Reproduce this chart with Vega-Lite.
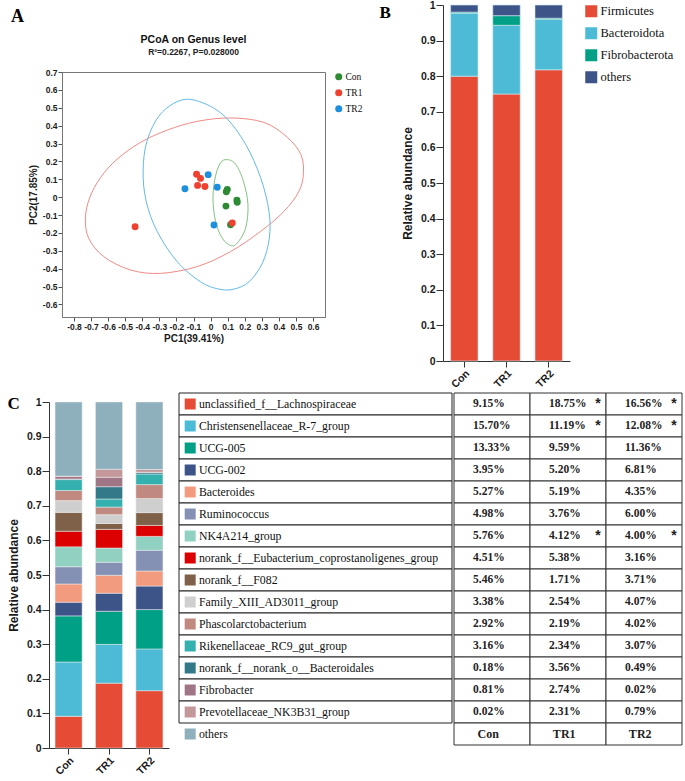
{
  "$schema": "https://vega.github.io/schema/vega-lite/v6.json",
  "background": "white",
  "padding": {"left": 7, "top": 0, "right": 2, "bottom": 0},
  "config": {
    "font": "Liberation Sans",
    "view": {"stroke": null},
    "axis": {"grid": false, "labelFont": "Liberation Sans", "labelFontWeight": "bold", "labelColor": "#1a1a1a", "titleFont": "Liberation Sans", "titleFontWeight": "bold", "titleColor": "#1a1a1a", "domainColor": "#333333", "tickColor": "#333333"},
    "legend": {"labelColor": "#111111"},
    "title": {"color": "#111111"}
  },
  "datasets": {
    "pts": [
      {"group": "Con", "PC1": 0.098, "PC2": 0.043},
      {"group": "Con", "PC1": 0.092, "PC2": 0.030},
      {"group": "Con", "PC1": 0.154, "PC2": -0.017},
      {"group": "Con", "PC1": 0.156, "PC2": -0.028},
      {"group": "Con", "PC1": 0.090, "PC2": -0.050},
      {"group": "Con", "PC1": 0.117, "PC2": -0.154},
      {"group": "TR1", "PC1": -0.082, "PC2": 0.128},
      {"group": "TR1", "PC1": -0.059, "PC2": 0.105},
      {"group": "TR1", "PC1": -0.076, "PC2": 0.066},
      {"group": "TR1", "PC1": -0.033, "PC2": 0.060},
      {"group": "TR1", "PC1": -0.442, "PC2": -0.165},
      {"group": "TR1", "PC1": 0.127, "PC2": -0.144},
      {"group": "TR2", "PC1": -0.150, "PC2": 0.047},
      {"group": "TR2", "PC1": -0.014, "PC2": 0.126},
      {"group": "TR2", "PC1": 0.039, "PC2": 0.056},
      {"group": "TR2", "PC1": 0.020, "PC2": -0.156}
    ],
    "ell": [
      {"set": "TR1", "i": 1, "PC1": -0.733, "PC2": -0.116},
      {"set": "TR1", "i": 2, "PC1": -0.708, "PC2": -0.004},
      {"set": "TR1", "i": 3, "PC1": -0.645, "PC2": 0.109},
      {"set": "TR1", "i": 4, "PC1": -0.548, "PC2": 0.212},
      {"set": "TR1", "i": 5, "PC1": -0.411, "PC2": 0.306},
      {"set": "TR1", "i": 6, "PC1": -0.254, "PC2": 0.375},
      {"set": "TR1", "i": 7, "PC1": -0.078, "PC2": 0.424},
      {"set": "TR1", "i": 8, "PC1": 0.117, "PC2": 0.443},
      {"set": "TR1", "i": 9, "PC1": 0.313, "PC2": 0.418},
      {"set": "TR1", "i": 10, "PC1": 0.450, "PC2": 0.334},
      {"set": "TR1", "i": 11, "PC1": 0.528, "PC2": 0.240},
      {"set": "TR1", "i": 12, "PC1": 0.544, "PC2": 0.137},
      {"set": "TR1", "i": 13, "PC1": 0.518, "PC2": 0.034},
      {"set": "TR1", "i": 14, "PC1": 0.430, "PC2": -0.079},
      {"set": "TR1", "i": 15, "PC1": 0.293, "PC2": -0.191},
      {"set": "TR1", "i": 16, "PC1": 0.117, "PC2": -0.304},
      {"set": "TR1", "i": 17, "PC1": -0.078, "PC2": -0.388},
      {"set": "TR1", "i": 18, "PC1": -0.293, "PC2": -0.426},
      {"set": "TR1", "i": 19, "PC1": -0.469, "PC2": -0.407},
      {"set": "TR1", "i": 20, "PC1": -0.626, "PC2": -0.332},
      {"set": "TR1", "i": 21, "PC1": -0.714, "PC2": -0.229},
      {"set": "TR2", "i": 1, "PC1": -0.166, "PC2": 0.544},
      {"set": "TR2", "i": 2, "PC1": -0.039, "PC2": 0.525},
      {"set": "TR2", "i": 3, "PC1": 0.088, "PC2": 0.447},
      {"set": "TR2", "i": 4, "PC1": 0.205, "PC2": 0.296},
      {"set": "TR2", "i": 5, "PC1": 0.293, "PC2": 0.109},
      {"set": "TR2", "i": 6, "PC1": 0.342, "PC2": -0.079},
      {"set": "TR2", "i": 7, "PC1": 0.344, "PC2": -0.229},
      {"set": "TR2", "i": 8, "PC1": 0.303, "PC2": -0.370},
      {"set": "TR2", "i": 9, "PC1": 0.225, "PC2": -0.473},
      {"set": "TR2", "i": 10, "PC1": 0.137, "PC2": -0.514},
      {"set": "TR2", "i": 11, "PC1": 0.049, "PC2": -0.514},
      {"set": "TR2", "i": 12, "PC1": -0.059, "PC2": -0.473},
      {"set": "TR2", "i": 13, "PC1": -0.196, "PC2": -0.360},
      {"set": "TR2", "i": 14, "PC1": -0.313, "PC2": -0.191},
      {"set": "TR2", "i": 15, "PC1": -0.377, "PC2": -0.023},
      {"set": "TR2", "i": 16, "PC1": -0.395, "PC2": 0.146},
      {"set": "TR2", "i": 17, "PC1": -0.372, "PC2": 0.315},
      {"set": "TR2", "i": 18, "PC1": -0.293, "PC2": 0.465},
      {"set": "Con", "i": 1, "PC1": 0.098, "PC2": 0.210},
      {"set": "Con", "i": 2, "PC1": 0.147, "PC2": 0.184},
      {"set": "Con", "i": 3, "PC1": 0.192, "PC2": 0.090},
      {"set": "Con", "i": 4, "PC1": 0.219, "PC2": -0.041},
      {"set": "Con", "i": 5, "PC1": 0.205, "PC2": -0.173},
      {"set": "Con", "i": 6, "PC1": 0.156, "PC2": -0.257},
      {"set": "Con", "i": 7, "PC1": 0.117, "PC2": -0.270},
      {"set": "Con", "i": 8, "PC1": 0.068, "PC2": -0.229},
      {"set": "Con", "i": 9, "PC1": 0.029, "PC2": -0.135},
      {"set": "Con", "i": 10, "PC1": 0.014, "PC2": -0.004},
      {"set": "Con", "i": 11, "PC1": 0.029, "PC2": 0.118},
      {"set": "Con", "i": 12, "PC1": 0.059, "PC2": 0.193}
    ],
    "phylum": [
      {"group": "Con", "phylum": "Firmicutes", "k": 1, "abundance": 0.800},
      {"group": "Con", "phylum": "Bacteroidota", "k": 2, "abundance": 0.177},
      {"group": "Con", "phylum": "Fibrobacterota", "k": 3, "abundance": 0.003},
      {"group": "Con", "phylum": "others", "k": 4, "abundance": 0.020},
      {"group": "TR1", "phylum": "Firmicutes", "k": 1, "abundance": 0.750},
      {"group": "TR1", "phylum": "Bacteroidota", "k": 2, "abundance": 0.193},
      {"group": "TR1", "phylum": "Fibrobacterota", "k": 3, "abundance": 0.027},
      {"group": "TR1", "phylum": "others", "k": 4, "abundance": 0.030},
      {"group": "TR2", "phylum": "Firmicutes", "k": 1, "abundance": 0.818},
      {"group": "TR2", "phylum": "Bacteroidota", "k": 2, "abundance": 0.142},
      {"group": "TR2", "phylum": "Fibrobacterota", "k": 3, "abundance": 0.003},
      {"group": "TR2", "phylum": "others", "k": 4, "abundance": 0.037}
    ],
    "genus": [
      {"genus": "unclassified_f__Lachnospiraceae", "k": 1, "group": "Con", "abundance": 0.0915, "sig": ""},
      {"genus": "unclassified_f__Lachnospiraceae", "k": 1, "group": "TR1", "abundance": 0.1875, "sig": "*"},
      {"genus": "unclassified_f__Lachnospiraceae", "k": 1, "group": "TR2", "abundance": 0.1656, "sig": "*"},
      {"genus": "Christensenellaceae_R-7_group", "k": 2, "group": "Con", "abundance": 0.1570, "sig": ""},
      {"genus": "Christensenellaceae_R-7_group", "k": 2, "group": "TR1", "abundance": 0.1119, "sig": "*"},
      {"genus": "Christensenellaceae_R-7_group", "k": 2, "group": "TR2", "abundance": 0.1208, "sig": "*"},
      {"genus": "UCG-005", "k": 3, "group": "Con", "abundance": 0.1333, "sig": ""},
      {"genus": "UCG-005", "k": 3, "group": "TR1", "abundance": 0.0959, "sig": ""},
      {"genus": "UCG-005", "k": 3, "group": "TR2", "abundance": 0.1136, "sig": ""},
      {"genus": "UCG-002", "k": 4, "group": "Con", "abundance": 0.0395, "sig": ""},
      {"genus": "UCG-002", "k": 4, "group": "TR1", "abundance": 0.0520, "sig": ""},
      {"genus": "UCG-002", "k": 4, "group": "TR2", "abundance": 0.0681, "sig": ""},
      {"genus": "Bacteroides", "k": 5, "group": "Con", "abundance": 0.0527, "sig": ""},
      {"genus": "Bacteroides", "k": 5, "group": "TR1", "abundance": 0.0519, "sig": ""},
      {"genus": "Bacteroides", "k": 5, "group": "TR2", "abundance": 0.0435, "sig": ""},
      {"genus": "Ruminococcus", "k": 6, "group": "Con", "abundance": 0.0498, "sig": ""},
      {"genus": "Ruminococcus", "k": 6, "group": "TR1", "abundance": 0.0376, "sig": ""},
      {"genus": "Ruminococcus", "k": 6, "group": "TR2", "abundance": 0.0600, "sig": ""},
      {"genus": "NK4A214_group", "k": 7, "group": "Con", "abundance": 0.0576, "sig": ""},
      {"genus": "NK4A214_group", "k": 7, "group": "TR1", "abundance": 0.0412, "sig": "*"},
      {"genus": "NK4A214_group", "k": 7, "group": "TR2", "abundance": 0.0400, "sig": "*"},
      {"genus": "norank_f__Eubacterium_coprostanoligenes_group", "k": 8, "group": "Con", "abundance": 0.0451, "sig": ""},
      {"genus": "norank_f__Eubacterium_coprostanoligenes_group", "k": 8, "group": "TR1", "abundance": 0.0538, "sig": ""},
      {"genus": "norank_f__Eubacterium_coprostanoligenes_group", "k": 8, "group": "TR2", "abundance": 0.0316, "sig": ""},
      {"genus": "norank_f__F082", "k": 9, "group": "Con", "abundance": 0.0546, "sig": ""},
      {"genus": "norank_f__F082", "k": 9, "group": "TR1", "abundance": 0.0171, "sig": ""},
      {"genus": "norank_f__F082", "k": 9, "group": "TR2", "abundance": 0.0371, "sig": ""},
      {"genus": "Family_XIII_AD3011_group", "k": 10, "group": "Con", "abundance": 0.0338, "sig": ""},
      {"genus": "Family_XIII_AD3011_group", "k": 10, "group": "TR1", "abundance": 0.0254, "sig": ""},
      {"genus": "Family_XIII_AD3011_group", "k": 10, "group": "TR2", "abundance": 0.0407, "sig": ""},
      {"genus": "Phascolarctobacterium", "k": 11, "group": "Con", "abundance": 0.0292, "sig": ""},
      {"genus": "Phascolarctobacterium", "k": 11, "group": "TR1", "abundance": 0.0219, "sig": ""},
      {"genus": "Phascolarctobacterium", "k": 11, "group": "TR2", "abundance": 0.0402, "sig": ""},
      {"genus": "Rikenellaceae_RC9_gut_group", "k": 12, "group": "Con", "abundance": 0.0316, "sig": ""},
      {"genus": "Rikenellaceae_RC9_gut_group", "k": 12, "group": "TR1", "abundance": 0.0234, "sig": ""},
      {"genus": "Rikenellaceae_RC9_gut_group", "k": 12, "group": "TR2", "abundance": 0.0307, "sig": ""},
      {"genus": "norank_f__norank_o__Bacteroidales", "k": 13, "group": "Con", "abundance": 0.0018, "sig": ""},
      {"genus": "norank_f__norank_o__Bacteroidales", "k": 13, "group": "TR1", "abundance": 0.0356, "sig": ""},
      {"genus": "norank_f__norank_o__Bacteroidales", "k": 13, "group": "TR2", "abundance": 0.0049, "sig": ""},
      {"genus": "Fibrobacter", "k": 14, "group": "Con", "abundance": 0.0081, "sig": ""},
      {"genus": "Fibrobacter", "k": 14, "group": "TR1", "abundance": 0.0274, "sig": ""},
      {"genus": "Fibrobacter", "k": 14, "group": "TR2", "abundance": 0.0002, "sig": ""},
      {"genus": "Prevotellaceae_NK3B31_group", "k": 15, "group": "Con", "abundance": 0.0002, "sig": ""},
      {"genus": "Prevotellaceae_NK3B31_group", "k": 15, "group": "TR1", "abundance": 0.0231, "sig": ""},
      {"genus": "Prevotellaceae_NK3B31_group", "k": 15, "group": "TR2", "abundance": 0.0079, "sig": ""},
      {"genus": "others", "k": 16, "group": "Con", "abundance": 0.2142, "sig": ""},
      {"genus": "others", "k": 16, "group": "TR1", "abundance": 0.1943, "sig": ""},
      {"genus": "others", "k": 16, "group": "TR2", "abundance": 0.1951, "sig": ""}
    ]
  },
  "resolve": {"scale": {"color": "independent", "stroke": "independent", "x": "independent", "y": "independent"}},
  "spacing": 2,
  "vconcat": [
    {
      "spacing": 15,
      "resolve": {"scale": {"color": "independent", "stroke": "independent", "x": "independent", "y": "independent"}},
      "hconcat": [
        {
          "spacing": -23,
          "resolve": {"scale": {"color": "independent", "stroke": "independent", "x": "independent", "y": "independent"}},
          "hconcat": [
            {
              "width": 1,
              "height": 1,
              "data": {"values": []},
              "mark": "point",
              "title": {"text": "A", "orient": "bottom", "anchor": "start", "frame": "group", "dx": -38, "offset": 2, "font": "Liberation Serif", "fontSize": 18, "fontWeight": "bold", "color": "#000000"}
            },
            {
              "spacing": 0,
              "resolve": {"scale": {"color": "independent", "stroke": "independent", "x": "independent", "y": "independent"}},
              "vconcat": [
                {"width": 1, "height": 29, "data": {"values": []}, "mark": "point"},
                {
                  "width": 263,
                  "height": 245,
                  "view": {"stroke": "#777777"},
                  "title": {"text": "PCoA on Genus level", "subtitle": "R²=0.2267, P=0.028000", "font": "Liberation Sans", "fontSize": 10.5, "fontWeight": "bold", "subtitleFont": "Liberation Sans", "subtitleFontSize": 8.5, "subtitleFontWeight": "bold", "subtitleColor": "#222222", "subtitlePadding": 2, "anchor": "middle", "offset": 12},
                  "layer": [
                    {
                      "mark": {"type": "rule", "strokeDash": [2, 2], "color": "#555555", "strokeWidth": 0.8},
                      "encoding": {"x": {"datum": 0, "type": "quantitative", "title": "PC1(39.41%)",
                          "scale": {"domain": [-0.87, 0.67], "nice": false, "zero": false},
                          "axis": {"values": [-0.8, -0.7, -0.6, -0.5, -0.4, -0.3, -0.2, -0.1, 0, 0.1, 0.2, 0.3, 0.4, 0.5, 0.6], "labelExpr": "'' + datum.value", "labelOverlap": false, "labelFontSize": 8.5, "titleFontSize": 10, "tickSize": 4, "labelPadding": 1, "titlePadding": 3, "domainColor": "#777777", "tickColor": "#555555"}}}
                    },
                    {
                      "mark": {"type": "rule", "strokeDash": [2, 2], "color": "#555555", "strokeWidth": 0.8},
                      "encoding": {"y": {"datum": 0, "type": "quantitative", "title": "PC2(17.85%)",
                          "scale": {"domain": [-0.67, 0.7], "nice": false, "zero": false},
                          "axis": {"values": [-0.6, -0.5, -0.4, -0.3, -0.2, -0.1, 0, 0.1, 0.2, 0.3, 0.4, 0.5, 0.6, 0.7], "labelExpr": "'' + datum.value", "labelOverlap": false, "labelFontSize": 8.5, "titleFontSize": 10, "tickSize": 4, "labelPadding": 1, "titlePadding": 4, "domainColor": "#777777", "tickColor": "#555555"}}}
                    },
                    {
                      "data": {"name": "ell"},
                      "mark": {"type": "line", "interpolate": "cardinal-closed", "strokeWidth": 1},
                      "encoding": {
                        "x": {"field": "PC1", "type": "quantitative", "title": "PC1(39.41%)",
                          "scale": {"domain": [-0.87, 0.67], "nice": false, "zero": false},
                          "axis": {"values": [-0.8, -0.7, -0.6, -0.5, -0.4, -0.3, -0.2, -0.1, 0, 0.1, 0.2, 0.3, 0.4, 0.5, 0.6], "labelExpr": "'' + datum.value", "labelOverlap": false, "labelFontSize": 8.5, "titleFontSize": 10, "tickSize": 4, "labelPadding": 1, "titlePadding": 3, "domainColor": "#777777", "tickColor": "#555555"}},
                        "y": {"field": "PC2", "type": "quantitative", "title": "PC2(17.85%)",
                          "scale": {"domain": [-0.67, 0.7], "nice": false, "zero": false},
                          "axis": {"values": [-0.6, -0.5, -0.4, -0.3, -0.2, -0.1, 0, 0.1, 0.2, 0.3, 0.4, 0.5, 0.6, 0.7], "labelExpr": "'' + datum.value", "labelOverlap": false, "labelFontSize": 8.5, "titleFontSize": 10, "tickSize": 4, "labelPadding": 1, "titlePadding": 4, "domainColor": "#777777", "tickColor": "#555555"}},
                        "order": {"field": "i", "type": "quantitative"},
                        "stroke": {"field": "set", "type": "nominal", "scale": {"domain": ["TR1", "TR2", "Con"], "range": ["#f28a86", "#62b9e8", "#82c182"]}, "legend": null}
                      }
                    },
                    {
                      "data": {"name": "pts"},
                      "mark": {"type": "circle", "size": 48, "opacity": 1},
                      "encoding": {
                        "x": {"field": "PC1", "type": "quantitative", "title": "PC1(39.41%)",
                          "scale": {"domain": [-0.87, 0.67], "nice": false, "zero": false},
                          "axis": {"values": [-0.8, -0.7, -0.6, -0.5, -0.4, -0.3, -0.2, -0.1, 0, 0.1, 0.2, 0.3, 0.4, 0.5, 0.6], "labelExpr": "'' + datum.value", "labelOverlap": false, "labelFontSize": 8.5, "titleFontSize": 10, "tickSize": 4, "labelPadding": 1, "titlePadding": 3, "domainColor": "#777777", "tickColor": "#555555"}},
                        "y": {"field": "PC2", "type": "quantitative", "title": "PC2(17.85%)",
                          "scale": {"domain": [-0.67, 0.7], "nice": false, "zero": false},
                          "axis": {"values": [-0.6, -0.5, -0.4, -0.3, -0.2, -0.1, 0, 0.1, 0.2, 0.3, 0.4, 0.5, 0.6, 0.7], "labelExpr": "'' + datum.value", "labelOverlap": false, "labelFontSize": 8.5, "titleFontSize": 10, "tickSize": 4, "labelPadding": 1, "titlePadding": 4, "domainColor": "#777777", "tickColor": "#555555"}},
                        "color": {"field": "group", "type": "nominal", "scale": {"domain": ["Con", "TR1", "TR2"], "range": ["#2e8b34", "#f0402f", "#1e8fdc"]},
                          "legend": {"title": null, "orient": "right", "offset": 9, "padding": 0, "symbolType": "circle", "symbolSize": 50, "labelFont": "Liberation Serif", "labelFontSize": 9.5, "rowPadding": 5, "labelOffset": 2}}
                      }
                    }
                  ]
                }
              ]
            }
          ]
        },
        {
          "width": 127,
          "height": 356,
          "data": {"name": "phylum"},
          "title": {"text": "B", "anchor": "start", "frame": "bounds", "font": "Liberation Serif", "fontSize": 17, "fontWeight": "bold", "offset": -22, "dx": -22, "color": "#000000"},
          "mark": {"type": "bar", "stroke": "#d4ecf4", "strokeWidth": 0.6},
          "encoding": {
            "x": {"field": "group", "type": "nominal", "sort": ["Con", "TR1", "TR2"], "scale": {"paddingInner": 0.35, "paddingOuter": 0.18}, "axis": {"title": null, "labelAngle": -45, "labelFontSize": 10.5, "tickSize": 6, "labelPadding": 1}},
            "y": {"field": "abundance", "type": "quantitative", "stack": "zero", "scale": {"domain": [0, 1], "nice": false}, "axis": {"title": "Relative abundance", "values": [0, 0.1, 0.2, 0.3, 0.4, 0.5, 0.6, 0.7, 0.8, 0.9, 1], "labelExpr": "'' + datum.value", "labelFontSize": 10.5, "titleFontSize": 12, "tickSize": 7, "labelPadding": 1, "titlePadding": 6}},
            "color": {"field": "phylum", "type": "nominal", "scale": {"domain": ["Firmicutes", "Bacteroidota", "Fibrobacterota", "others"], "range": ["#E64B35", "#4DBBD5", "#00A087", "#3C5488"]},
              "legend": {"title": null, "orient": "right", "offset": 15, "symbolType": "square", "symbolSize": 144, "symbolStrokeWidth": 0, "labelFont": "Liberation Serif", "labelFontSize": 12.5, "rowPadding": 9, "labelOffset": 3}},
            "order": {"field": "k", "type": "quantitative"}
          }
        }
      ]
    },
    {
      "spacing": 9,
      "resolve": {"scale": {"color": "independent", "stroke": "independent", "x": "independent", "y": "independent"}},
      "hconcat": [
        {
          "spacing": 0,
          "vconcat": [
            {"width": 1, "height": 2, "data": {"values": []}, "mark": "point"},
            {
              "width": 120,
              "height": 346,
              "data": {"name": "genus"},
              "title": {"text": "C", "anchor": "start", "frame": "bounds", "font": "Liberation Serif", "fontSize": 17, "fontWeight": "bold", "offset": -16, "color": "#000000"},
              "mark": {"type": "bar", "stroke": "#eeeeee", "strokeWidth": 0.5},
              "encoding": {
                "x": {"field": "group", "type": "nominal", "sort": ["Con", "TR1", "TR2"], "scale": {"paddingInner": 0.33, "paddingOuter": 0.15}, "axis": {"title": null, "labelAngle": -45, "labelFontSize": 10.5, "tickSize": 6, "labelPadding": 1}},
                "y": {"field": "abundance", "type": "quantitative", "stack": "zero", "scale": {"domain": [0, 1], "nice": false}, "axis": {"title": "Relative abundance", "values": [0, 0.1, 0.2, 0.3, 0.4, 0.5, 0.6, 0.7, 0.8, 0.9, 1], "labelExpr": "'' + datum.value", "labelFontSize": 10.5, "titleFontSize": 12, "tickSize": 7, "labelPadding": 1, "titlePadding": 6}},
                "color": {"field": "genus", "type": "nominal", "scale": {"domain": ["unclassified_f__Lachnospiraceae", "Christensenellaceae_R-7_group", "UCG-005", "UCG-002", "Bacteroides", "Ruminococcus", "NK4A214_group", "norank_f__Eubacterium_coprostanoligenes_group", "norank_f__F082", "Family_XIII_AD3011_group", "Phascolarctobacterium", "Rikenellaceae_RC9_gut_group", "norank_f__norank_o__Bacteroidales", "Fibrobacter", "Prevotellaceae_NK3B31_group", "others"], "range": ["#E64B35", "#4DBBD5", "#00A087", "#3C5488", "#F39B7F", "#8491B4", "#91D1C2", "#DC0000", "#7E6148", "#CFCFCF", "#C08A80", "#34B0AE", "#34798A", "#A07687", "#C4979A", "#8DB0BC"]}, "legend": null},
                "order": {"field": "k", "type": "quantitative"}
              }
            }
          ]
        },
        {
          "spacing": 0,
          "resolve": {"scale": {"color": "independent", "x": "independent", "y": "independent"}},
          "hconcat": [
            {
              "width": 273,
              "height": 352,
              "data": {"name": "genus"},
              "transform": [{"filter": "datum.group == 'Con'"}],
              "encoding": {
                "y": {"field": "genus", "type": "nominal", "scale": {"domain": ["unclassified_f__Lachnospiraceae", "Christensenellaceae_R-7_group", "UCG-005", "UCG-002", "Bacteroides", "Ruminococcus", "NK4A214_group", "norank_f__Eubacterium_coprostanoligenes_group", "norank_f__F082", "Family_XIII_AD3011_group", "Phascolarctobacterium", "Rikenellaceae_RC9_gut_group", "norank_f__norank_o__Bacteroidales", "Fibrobacter", "Prevotellaceae_NK3B31_group", "others"], "paddingInner": 0, "paddingOuter": 0}, "axis": null}
              },
              "layer": [
                {
                  "transform": [{"filter": "datum.genus != 'others'"}],
                  "mark": {"type": "rect", "fill": "white", "stroke": "#222222", "strokeWidth": 1},
                  "encoding": {
                    "x": {"datum": 0, "type": "quantitative", "scale": {"domain": [0, 1], "nice": false}, "axis": null},
                    "x2": {"datum": 1}
                  }
                },
                {
                  "mark": {"type": "point", "shape": "square", "filled": true, "size": 121, "opacity": 1},
                  "encoding": {
                    "x": {"datum": 0.041, "type": "quantitative", "scale": {"domain": [0, 1], "nice": false}, "axis": null},
                    "color": {"field": "genus", "type": "nominal", "scale": {"domain": ["unclassified_f__Lachnospiraceae", "Christensenellaceae_R-7_group", "UCG-005", "UCG-002", "Bacteroides", "Ruminococcus", "NK4A214_group", "norank_f__Eubacterium_coprostanoligenes_group", "norank_f__F082", "Family_XIII_AD3011_group", "Phascolarctobacterium", "Rikenellaceae_RC9_gut_group", "norank_f__norank_o__Bacteroidales", "Fibrobacter", "Prevotellaceae_NK3B31_group", "others"], "range": ["#E64B35", "#4DBBD5", "#00A087", "#3C5488", "#F39B7F", "#8491B4", "#91D1C2", "#DC0000", "#7E6148", "#CFCFCF", "#C08A80", "#34B0AE", "#34798A", "#A07687", "#C4979A", "#8DB0BC"]}, "legend": null}
                  }
                },
                {
                  "mark": {"type": "text", "align": "left", "baseline": "middle", "font": "Liberation Serif", "fontSize": 11.8, "color": "#111111"},
                  "encoding": {
                    "x": {"datum": 0.073, "type": "quantitative", "scale": {"domain": [0, 1], "nice": false}, "axis": null},
                    "text": {"field": "genus", "type": "nominal"}
                  }
                }
              ]
            },
            {
              "width": 228,
              "height": 352,
              "encoding": {
                "y": {"field": "genus", "type": "nominal", "scale": {"domain": ["unclassified_f__Lachnospiraceae", "Christensenellaceae_R-7_group", "UCG-005", "UCG-002", "Bacteroides", "Ruminococcus", "NK4A214_group", "norank_f__Eubacterium_coprostanoligenes_group", "norank_f__F082", "Family_XIII_AD3011_group", "Phascolarctobacterium", "Rikenellaceae_RC9_gut_group", "norank_f__norank_o__Bacteroidales", "Fibrobacter", "Prevotellaceae_NK3B31_group", "header"], "paddingInner": 0, "paddingOuter": 0}, "axis": null}
              },
              "layer": [
                {
                  "data": {"name": "genus"},
                  "transform": [{"filter": "datum.genus != 'others'"}],
                  "mark": {"type": "rect", "fill": "white", "stroke": "#333333", "strokeWidth": 1},
                  "encoding": {
                    "x": {"field": "group", "type": "nominal", "scale": {"domain": ["Con", "TR1", "TR2"], "paddingInner": 0, "paddingOuter": 0}, "axis": null}
                  }
                },
                {
                  "data": {"values": [{"group": "Con"}, {"group": "TR1"}, {"group": "TR2"}]},
                  "mark": {"type": "rect", "fill": "white", "stroke": "#333333", "strokeWidth": 1},
                  "encoding": {
                    "x": {"field": "group", "type": "nominal", "axis": null},
                    "y": {"datum": "header", "type": "nominal"}
                  }
                },
                {
                  "data": {"name": "genus"},
                  "transform": [{"filter": "datum.genus != 'others'"}],
                  "mark": {"type": "text", "align": "left", "baseline": "middle", "font": "Liberation Serif", "fontSize": 11.5, "fontWeight": "bold", "color": "#222222"},
                  "encoding": {
                    "x": {"field": "group", "type": "nominal", "bandPosition": 0.25, "axis": null},
                    "text": {"field": "abundance", "type": "quantitative", "format": ".2%"}
                  }
                },
                {
                  "data": {"name": "genus"},
                  "transform": [{"filter": "datum.sig == '*'"}],
                  "mark": {"type": "text", "align": "left", "baseline": "middle", "font": "Liberation Sans", "fontSize": 14, "fontWeight": "bold", "color": "#222222"},
                  "encoding": {
                    "x": {"field": "group", "type": "nominal", "bandPosition": 0.86, "axis": null},
                    "text": {"field": "sig", "type": "nominal"}
                  }
                },
                {
                  "data": {"values": [{"group": "Con"}, {"group": "TR1"}, {"group": "TR2"}]},
                  "mark": {"type": "text", "align": "center", "baseline": "middle", "font": "Liberation Serif", "fontSize": 12, "fontWeight": "bold", "color": "#222222"},
                  "encoding": {
                    "x": {"field": "group", "type": "nominal", "bandPosition": 0.45, "axis": null},
                    "y": {"datum": "header", "type": "nominal"},
                    "text": {"field": "group", "type": "nominal"}
                  }
                }
              ]
            }
          ]
        }
      ]
    }
  ]
}
